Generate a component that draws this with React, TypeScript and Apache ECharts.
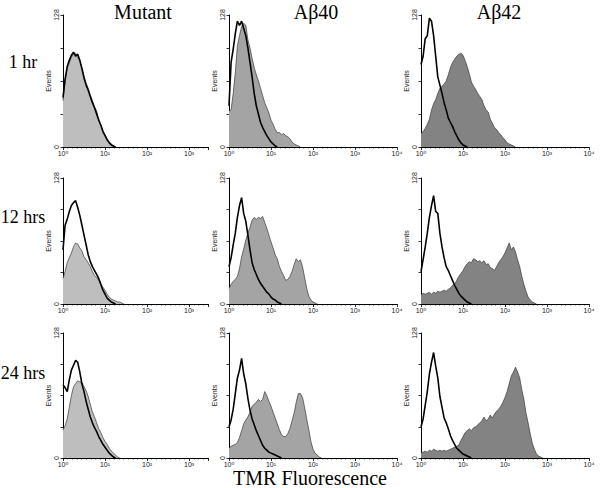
import React, { useEffect, useRef } from "react";
import * as echarts from "echarts";

// log10(TMR fluorescence) channel positions (decades)
const DECADES = [
  0, 0.05, 0.1, 0.15, 0.2, 0.25, 0.3, 0.35, 0.4, 0.45,
  0.5, 0.55, 0.6, 0.65, 0.7, 0.75, 0.8, 0.85, 0.9, 0.95,
  1, 1.05, 1.1, 1.15, 1.2, 1.25, 1.3, 1.35, 1.4, 1.45,
  1.5, 1.55, 1.6, 1.65, 1.7, 1.75, 1.8, 1.85, 1.9, 1.95,
  2, 2.05, 2.1, 2.15, 2.2, 2.25, 2.3, 2.35, 2.4, 2.45,
  2.5, 2.55, 2.6, 2.65, 2.7, 2.75, 2.8, 2.85, 2.9, 2.95,
];

const X_TICK_LABELS = ["10\u2070", "10\u00b9", "10\u00b2", "10\u00b3", "10\u2074"];
const COLUMN_TITLES = ["Mutant", "A\u03b240", "A\u03b242"];
const ROW_TITLES = ["1 hr", "12 hrs", "24 hrs"];

// Events per channel, treated cells (filled histograms)
const MUT_1H_FILL = [45, 63, 76, 82, 87, 90, 91, 86, 84, 77, 69, 62, 57, 50, 45, 39, 35, 27, 22, 16, 12, 8, 5, 3, 1, 0];
const MUT_12H_FILL = [26, 33, 42, 47, 52, 58, 62, 61, 57, 54, 48, 45, 42, 38, 33, 29, 27, 24, 20, 17, 14, 10, 7, 5, 4, 3, 2, 2, 1, 0];
const MUT_24H_FILL = [29, 33, 40, 52, 64, 73, 76, 79, 78, 77, 73, 69, 63, 55, 47, 42, 36, 30, 26, 21, 17, 14, 10, 7, 5, 3, 1, 0];
const AB40_1H_FILL = [35, 36, 52, 72, 98, 108, 117, 120, 118, 104, 96, 86, 77, 70, 64, 57, 50, 43, 38, 33, 26, 22, 17, 14, 14, 12, 13, 11, 10, 8, 5, 3, 2, 1, 0];
const AB40_12H_FILL = [16, 20, 23, 25, 28, 36, 48, 56, 65, 72, 78, 85, 88, 86, 88, 87, 89, 83, 77, 70, 63, 57, 50, 46, 38, 33, 29, 24, 25, 28, 33, 40, 46, 43, 45, 38, 27, 16, 8, 4, 2, 1, 0];
const AB40_24H_FILL = [10, 12, 13, 14, 16, 21, 28, 35, 39, 42, 47, 53, 55, 57, 60, 58, 60, 68, 64, 58, 53, 47, 41, 35, 29, 24, 22, 22, 25, 30, 38, 46, 57, 66, 66, 62, 52, 40, 29, 17, 9, 5, 3, 1, 0];
const AB42_1H_FILL = [13, 15, 18, 22, 27, 36, 42, 46, 52, 57, 59, 61, 64, 70, 77, 82, 85, 88, 90, 91, 89, 84, 78, 71, 63, 59, 56, 52, 49, 46, 40, 36, 34, 27, 23, 19, 17, 14, 12, 9, 7, 4, 3, 2, 1, 0];
const AB42_12H_FILL = [9, 11, 10, 11, 12, 10, 12, 11, 13, 12, 13, 14, 13, 15, 16, 19, 20, 24, 28, 31, 34, 38, 41, 43, 42, 46, 45, 43, 44, 42, 44, 40, 41, 37, 36, 34, 38, 42, 45, 48, 52, 57, 62, 55, 58, 53, 45, 38, 28, 20, 13, 7, 4, 2, 1, 0];
const AB42_24H_FILL = [5, 6, 7, 6, 8, 7, 9, 8, 7, 8, 7, 8, 7, 8, 9, 10, 11, 12, 13, 18, 22, 26, 28, 30, 28, 31, 32, 34, 36, 38, 42, 38, 40, 44, 41, 45, 48, 50, 53, 57, 62, 68, 76, 84, 88, 93, 88, 82, 70, 60, 46, 36, 25, 15, 9, 4, 2, 1, 0];

// Events per channel, control cells (open black histograms)
const MUT_1H_CTRL = [48, 66, 78, 84, 89, 92, 88, 90, 84, 76, 67, 60, 55, 49, 43, 38, 32, 26, 21, 15, 11, 7, 4, 2, 1, 0];
const MUT_12H_CTRL = [55, 80, 86, 94, 100, 103, 105, 98, 90, 80, 70, 60, 50, 43, 38, 34, 30, 26, 20, 14, 10, 6, 4, 2, 1, 0];
const MUT_24H_CTRL = [75, 72, 68, 80, 90, 95, 100, 98, 88, 76, 68, 58, 50, 42, 36, 31, 27, 22, 18, 14, 11, 8, 5, 3, 1, 0];
const AB40_1H_CTRL = [40, 82, 95, 110, 122, 118, 122, 115, 108, 96, 82, 68, 52, 40, 32, 24, 19, 15, 11, 8, 5, 3, 1, 0];
const AB40_12H_CTRL = [38, 47, 60, 72, 88, 100, 108, 92, 84, 70, 55, 42, 35, 30, 25, 21, 18, 15, 12, 10, 7, 5, 4, 2, 1, 0];
const AB40_24H_CTRL = [32, 39, 50, 66, 82, 90, 102, 86, 76, 61, 49, 40, 34, 28, 23, 18, 13, 10, 8, 6, 5, 4, 3, 2, 1, 0];
const AB42_1H_CTRL = [80, 88, 105, 108, 125, 122, 108, 88, 68, 60, 52, 43, 36, 28, 24, 20, 15, 11, 7, 4, 2, 1, 0];
const AB42_12H_CTRL = [33, 45, 58, 72, 88, 100, 110, 94, 92, 72, 58, 47, 38, 34, 29, 24, 19, 15, 11, 8, 6, 4, 2, 1, 0];
const AB42_24H_CTRL = [32, 40, 54, 68, 86, 98, 108, 94, 82, 63, 52, 41, 36, 30, 23, 18, 14, 10, 8, 6, 4, 3, 2, 1, 0];

const FILLS = [
  [MUT_1H_FILL, AB40_1H_FILL, AB42_1H_FILL],
  [MUT_12H_FILL, AB40_12H_FILL, AB42_12H_FILL],
  [MUT_24H_FILL, AB40_24H_FILL, AB42_24H_FILL],
];
const CTRLS = [
  [MUT_1H_CTRL, AB40_1H_CTRL, AB42_1H_CTRL],
  [MUT_12H_CTRL, AB40_12H_CTRL, AB42_12H_CTRL],
  [MUT_24H_CTRL, AB40_24H_CTRL, AB42_24H_CTRL],
];

const COLS = [
  { left: 63, width: 145, max: 3.45, fill: "#bebebe" },
  { left: 229, width: 168, max: 4, fill: "#a4a4a4" },
  { left: 421, width: 168, max: 4, fill: "#838383" },
];
const ROWS = [
  { top: 15, height: 132 },
  { top: 178, height: 126 },
  { top: 333, height: 125 },
];

const zip = (vals: number[]) => vals.map((v, i) => [DECADES[i], v]);

export default function App() {
  const ref = useRef<HTMLDivElement>(null);
  useEffect(() => {
    if (!ref.current) return;
    const chart = echarts.init(ref.current, undefined, { renderer: "svg" });
    const grid: any[] = [];
    const xAxis: any[] = [];
    const yAxis: any[] = [];
    const series: any[] = [];
    const axisFont = { fontFamily: "Liberation Sans, DejaVu Sans, Arial", fontSize: 7, color: "#222" };
    ROWS.forEach((r, ri) => {
      COLS.forEach((c, ci) => {
        const idx = grid.length;
        grid.push({ left: c.left, top: r.top, width: c.width, height: r.height });
        xAxis.push({
          type: "value",
          gridIndex: idx,
          min: 0,
          max: c.max,
          interval: 1,
          axisLine: { show: true, lineStyle: { color: "#000", width: 1 } },
          axisTick: { show: true, length: 3, lineStyle: { color: "#000", width: 0.8 } },
          minorTick: { show: true, splitNumber: 9, length: 1.5, lineStyle: { color: "#000", width: 0.6 } },
          splitLine: { show: false },
          axisLabel: {
            ...axisFont,
            margin: 3,
            formatter: (v: number) => (Number.isInteger(v) ? X_TICK_LABELS[v] : ""),
          },
        });
        yAxis.push({
          type: "value",
          gridIndex: idx,
          min: 0,
          max: 128,
          interval: 32,
          name: "Events",
          nameLocation: "middle",
          nameGap: 7,
          nameTextStyle: { ...axisFont },
          axisLine: { show: true, lineStyle: { color: "#000", width: 1 } },
          axisTick: { show: true, length: 2.5, lineStyle: { color: "#000", width: 0.8 } },
          splitLine: { show: false },
          axisLabel: {
            ...axisFont,
            rotate: 90,
            margin: 3,
            formatter: (v: number) => (v === 0 || v === 128 ? String(v) : ""),
          },
        });
        series.push({
          type: "line",
          xAxisIndex: idx,
          yAxisIndex: idx,
          data: zip(FILLS[ri][ci]),
          symbol: "none",
          lineStyle: { color: "#3a3a3a", width: 0.7 },
          areaStyle: { color: c.fill, opacity: 1 },
          z: 2,
        });
        series.push({
          type: "line",
          xAxisIndex: idx,
          yAxisIndex: idx,
          data: zip(CTRLS[ri][ci]),
          symbol: "none",
          lineStyle: { color: "#000", width: 1.6 },
          z: 3,
        });
      });
    });
    const serif = "Liberation Serif, Times New Roman, serif";
    const graphic: any[] = [];
    const colCenters = [143, 316, 499];
    COLUMN_TITLES.forEach((t, i) =>
      graphic.push({
        type: "text",
        x: colCenters[i],
        y: 12,
        style: { text: t, fontFamily: serif, fontSize: 20, fill: "#000", align: "center", verticalAlign: "middle" },
      })
    );
    const rowCenters = [62, 217, 373];
    ROW_TITLES.forEach((t, i) =>
      graphic.push({
        type: "text",
        x: 23,
        y: rowCenters[i],
        style: { text: t, fontFamily: serif, fontSize: 18, fill: "#000", align: "center", verticalAlign: "middle" },
      })
    );
    graphic.push({
      type: "text",
      x: 310,
      y: 478,
      style: { text: "TMR Fluorescence", fontFamily: serif, fontSize: 20, fill: "#000", align: "center", verticalAlign: "middle" },
    });
    chart.setOption({
      animation: false,
      backgroundColor: "#fff",
      grid,
      xAxis,
      yAxis,
      series,
      graphic,
    });
    return () => chart.dispose();
  }, []);
  return (
    <div
      ref={ref}
      style={{ position: "fixed", left: 0, top: 0, width: 600, height: 488 }}
    />
  );
}
